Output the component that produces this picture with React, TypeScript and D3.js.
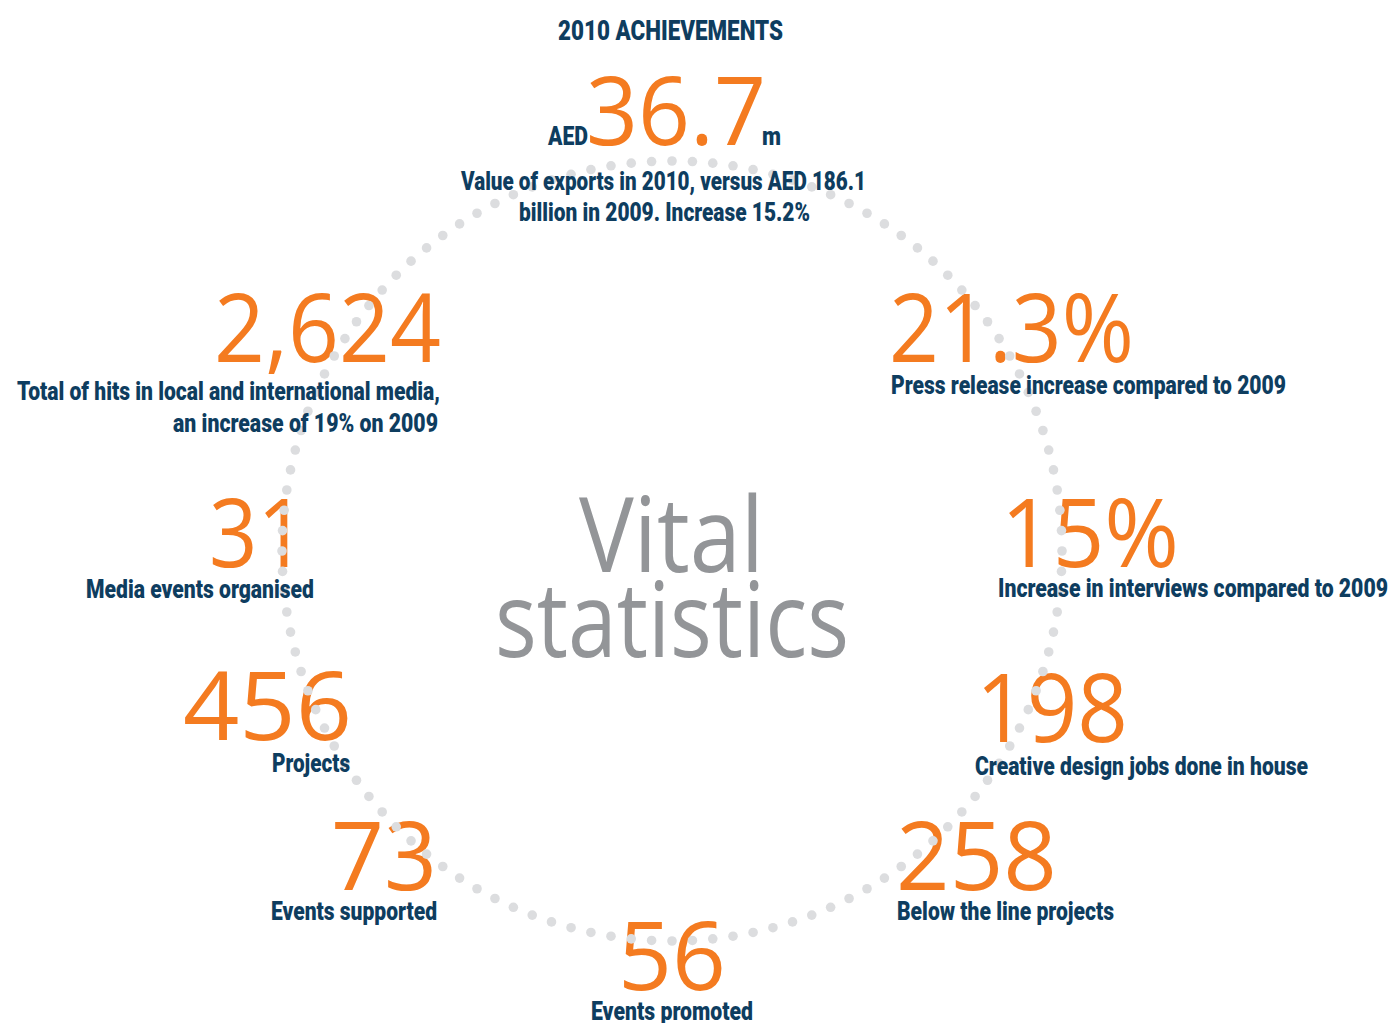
import React from "react";
import * as d3 from "d3";

const W = 1394;
const H = 1023;

// ---- data ----
const title = "2010 ACHIEVEMENTS";
const statValues = ["36.7", "2,624", "21.3%", "31", "15%", "456", "198", "73", "258", "56"];
const statLabels = [
  ["Value of exports in 2010, versus AED 186.1", "billion in 2009. Increase 15.2%"],
  ["Total of hits in local and international media,", "an increase of 19% on 2009"],
  ["Press release increase compared to 2009"],
  ["Media events organised"],
  ["Increase in interviews compared to 2009"],
  ["Projects"],
  ["Creative design jobs done in house"],
  ["Events supported"],
  ["Below the line projects"],
  ["Events promoted"],
];
const prefixText = "AED";
const suffixText = "m";
const centerLines = ["Vital", "statistics"];

// ---- layout (positions only) ----
const numLayout = [
  { x: 590, y: 145, w: 172 },
  { x: 218, y: 362, w: 219 },
  { x: 893, y: 362, w: 237 },
  { x: 213, y: 567, w: 89 },
  { x: 1005, y: 567, w: 170 },
  { x: 187, y: 740, w: 161 },
  { x: 980, y: 742, w: 144 },
  { x: 335, y: 890, w: 98 },
  { x: 900, y: 890, w: 153 },
  { x: 622, y: 990, w: 100 },
];
const labelLayout = [
  [{ x: 461, y: 190, w: 405 }, { x: 519, y: 221, w: 291 }],
  [{ x: 17, y: 400, w: 423 }, { x: 173, y: 432, w: 265 }],
  [{ x: 891, y: 394, w: 395 }],
  [{ x: 86, y: 598, w: 228 }],
  [{ x: 998, y: 597, w: 390 }],
  [{ x: 272, y: 772, w: 78 }],
  [{ x: 975, y: 775, w: 333 }],
  [{ x: 271, y: 920, w: 166 }],
  [{ x: 897, y: 920, w: 217 }],
  [{ x: 591, y: 1020, w: 162 }],
];

const ORANGE = "#f47b20";
const NAVY = "#0e3d5f";
const GREY = "#939598";
const DOT = "#dcdddf";

const NUM_FONT = "'Open Sans', 'Noto Sans', sans-serif";
const LBL_FONT = "Roboto, 'Liberation Sans', sans-serif";

const cx = 672;
const cy = 551;
const R = 390;
const N_DOTS = 120;

export default function App() {
  const angle = d3.scaleLinear().domain([0, N_DOTS]).range([0, 2 * Math.PI]);
  const dots = d3.range(N_DOTS).map((i) => {
    const a = angle(i) + Math.PI / 2;
    return { x: cx + R * Math.cos(a), y: cy + R * Math.sin(a) };
  });

  const lbl = (key: string, x: number, y: number, w: number, t: string, fs = 25) => (
    <text
      key={key}
      x={x}
      y={y}
      fontFamily={LBL_FONT}
      fontWeight={900}
      fontSize={fs}
      fill={NAVY}
      textLength={w}
      lengthAdjust="spacingAndGlyphs"
    >
      {t}
    </text>
  );

  return (
    <svg
      width={W}
      height={H}
      style={{ position: "absolute", left: 0, top: 0, background: "#fff" }}
    >
      {/* big orange numbers */}
      {statValues.map((v, i) => (
        <text
          key={"n" + i}
          x={numLayout[i].x - 4}
          y={numLayout[i].y}
          fontFamily={NUM_FONT}
          fontSize={96}
          fill={ORANGE}
          textLength={numLayout[i].w + 8}
          lengthAdjust="spacingAndGlyphs"
        >
          {v}
        </text>
      ))}

      {/* dotted circle */}
      <g>
        {dots.map((d, i) => (
          <circle key={"d" + i} cx={d.x} cy={d.y} r={4.8} fill={DOT} />
        ))}
      </g>

      {/* title and unit words */}
      {lbl("title", 558, 40, 225, title, 27)}
      {lbl("pre", 548, 145, 40, prefixText)}
      {lbl("suf", 762, 145, 19, suffixText)}

      {/* labels */}
      {statLabels.map((lines, i) =>
        lines.map((t, j) =>
          lbl("l" + i + "-" + j, labelLayout[i][j].x, labelLayout[i][j].y, labelLayout[i][j].w, t)
        )
      )}

      {/* center title */}
      <text
        x={583 - 4}
        y={572}
        fontFamily={NUM_FONT}
        fontSize={104}
        fill={GREY}
        textLength={177 + 8}
        lengthAdjust="spacingAndGlyphs"
      >
        {centerLines[0]}
      </text>
      <text
        x={499 - 4}
        y={657}
        fontFamily={NUM_FONT}
        fontSize={104}
        fill={GREY}
        textLength={346 + 8}
        lengthAdjust="spacingAndGlyphs"
      >
        {centerLines[1]}
      </text>
    </svg>
  );
}
